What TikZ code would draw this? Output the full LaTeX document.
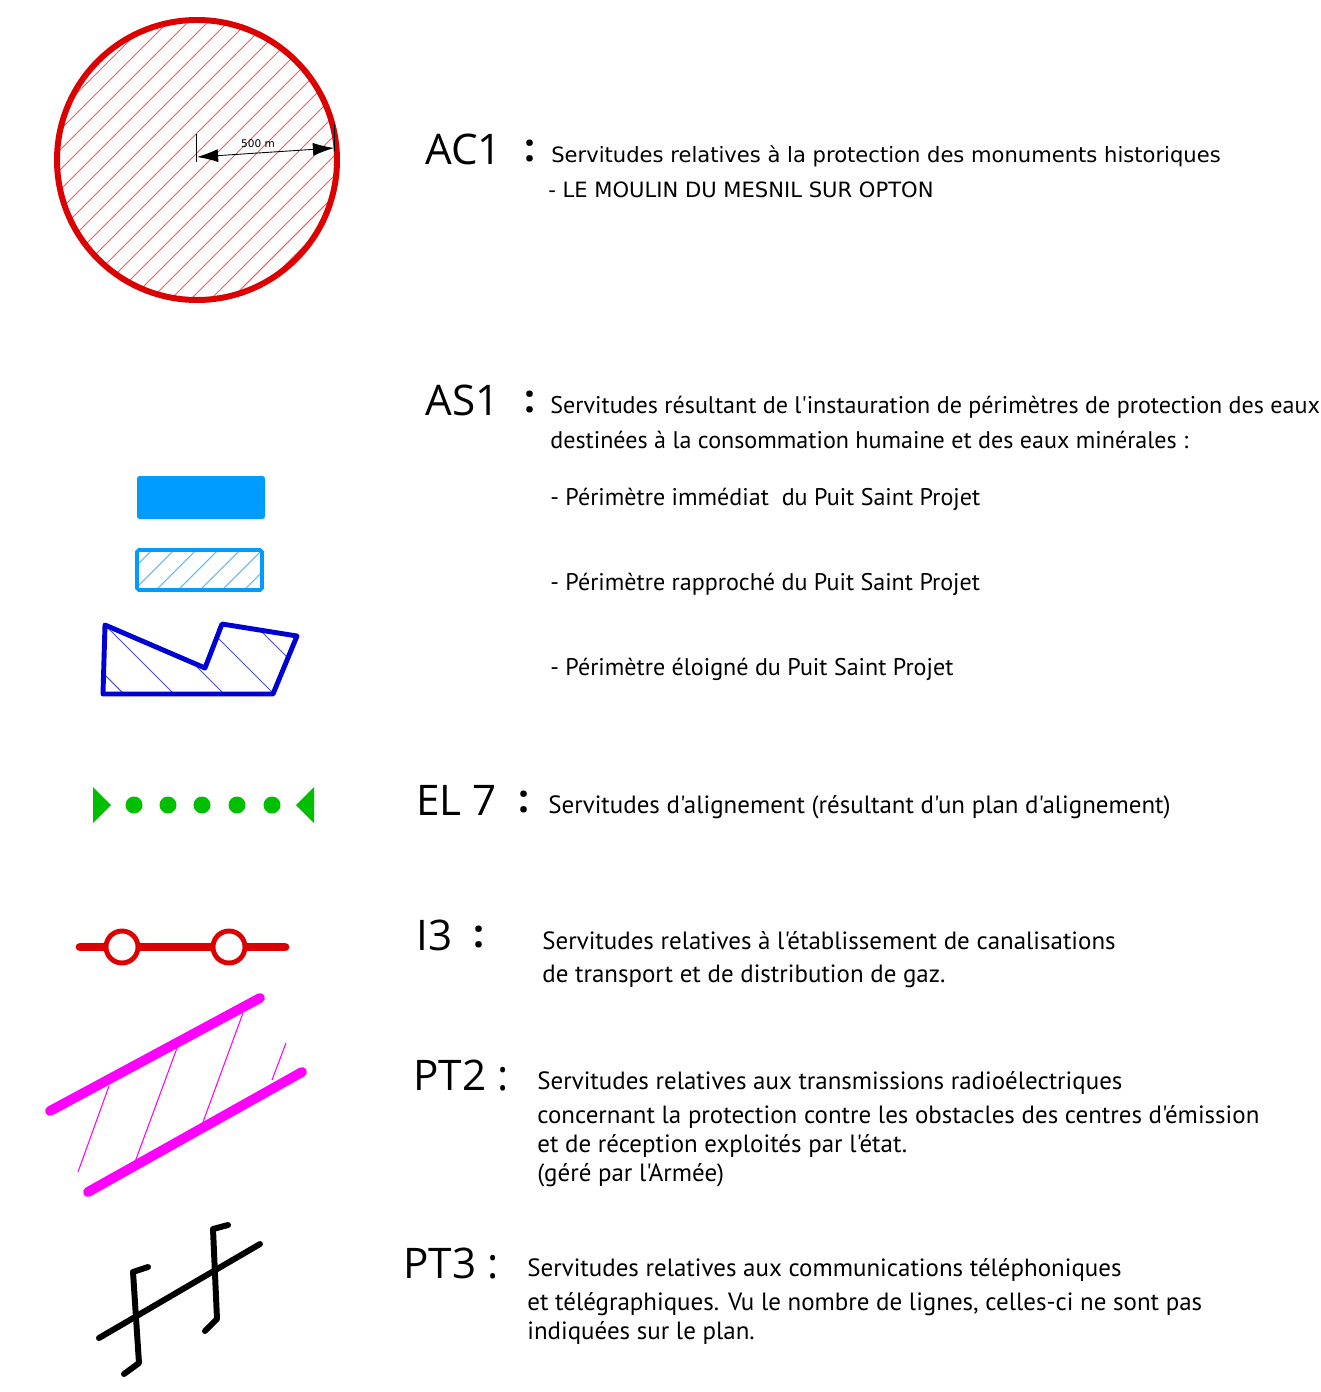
\documentclass[tikz,border=0pt]{standalone}
\usepackage{fontspec}
\setmainfont{PT Sans}[Ligatures=TeXOff]
\newfontfamily\codefont{Open Sans}
\newfontfamily\widefont{DejaVu Sans}[Ligatures=TeXOff]
\usetikzlibrary{arrows.meta}

\definecolor{acred}{RGB}{220,0,0}
\definecolor{hatchred}{RGB}{245,90,90}
\definecolor{asblue}{RGB}{0,155,255}
\definecolor{hatchblue}{RGB}{90,185,255}
\definecolor{farblue}{RGB}{0,0,210}
\definecolor{elgreen}{RGB}{0,190,0}
\definecolor{ptpink}{RGB}{255,0,255}

\tikzset{
  code/.style={anchor=base west, inner sep=0pt, font=\codefont\fontsize{24}{30}\selectfont},
  colon/.style={anchor=base west, inner sep=0pt, font=\codefont\bfseries\fontsize{22}{26}\selectfont},
  desc/.style={anchor=base west, inner sep=0pt, font=\fontsize{14.2}{17}\selectfont},
  sdesc/.style={desc, font=\fontsize{13.7}{17}\selectfont},
  wdesc/.style={anchor=base west, inner sep=0pt, font=\widefont\fontsize{12}{14}\selectfont}
}

\begin{document}
\begin{tikzpicture}[x=0.02cm, y=-0.02cm]
  \useasboundingbox (0,0) rectangle (1320,1392);

  % AC1 : circle of protection
  \begin{scope}
    \clip (197,160) circle[radius=139];
    \foreach \i in {-260,-240,...,380}
      \draw[hatchred, line width=0.6pt] (\i,310) -- ++(310,-310);
  \end{scope}
  \draw[acred, line width=3.4pt] (197,160) circle[radius=140];
  \draw[line width=0.5pt] (196,134) -- (196,162);
  \draw[line width=0.5pt] (334,124) -- (334,151);
  \draw[{Latex[length=12pt,width=7.5pt]}-{Latex[length=12pt,width=7.5pt]}, line width=0.5pt]
    (197,157) -- (334,148);
  \node[font=\widefont\fontsize{6}{7}\selectfont, inner sep=0pt] (radius) at (258,144) {500 m};

  \node[code] (ac1) at (425,165) {AC1};
  \node[colon] (ac1c) at (524,162) {:};
  \node[wdesc] (ac1a) at (551,163) {Servitudes relatives à la protection des monuments historiques};
  \node[wdesc] (ac1b) at (548,197) {- LE MOULIN DU MESNIL SUR OPTON};

  % AS1 : protection perimeters
  \node[code] (as1) at (425,415) {AS1};
  \node[colon] (as1c) at (524,412) {:};
  \node[sdesc] (as1a) at (550,413) {Servitudes résultant de l'instauration de périmètres de protection des eaux};
  \node[sdesc] (as1b) at (550,448) {destinées à la consommation humaine et des eaux minérales :};

  \fill[asblue, rounded corners=1.5pt] (137,476) rectangle (265,519);
  \begin{scope}
    \clip (137,550) rectangle (262,590);
    \foreach \i in {80,102,...,300}
      \draw[hatchblue, line width=0.6pt] (\i,600) -- ++(60,-60);
  \end{scope}
  \draw[asblue, line width=2pt, rounded corners=1pt] (137,550) rectangle (262,590);

  \begin{scope}
    \clip (105,625) -- (205,668) -- (222,624) -- (297,636) -- (273,694) -- (103,694) -- cycle;
    \foreach \i in {-20,30,...,330}
      \draw[farblue!70, line width=0.6pt] (\i,600) -- ++(110,110);
  \end{scope}
  \draw[farblue, line width=2.8pt, line join=round]
    (105,625) -- (205,668) -- (222,624) -- (297,636) -- (273,694) -- (103,694) -- cycle;

  \node[sdesc] (as1p1) at (550,505) {- Périmètre immédiat\ \ du Puit Saint Projet};
  \node[sdesc] (as1p2) at (550,590) {- Périmètre rapproché du Puit Saint Projet};
  \node[sdesc] (as1p3) at (550,675) {- Périmètre éloigné du Puit Saint Projet};

  % EL 7 : alignment
  \fill[elgreen] (93,787) -- (111,805) -- (93,823) -- cycle;
  \fill[elgreen] (314,787) -- (296,805) -- (314,823) -- cycle;
  \foreach \x in {134,168,202,237,272}
    \fill[elgreen] (\x,805) circle[radius=8.5];

  \node[code] (el7) at (416,815) {EL 7};
  \node[colon] (el7c) at (518,812) {:};
  \node[desc] (el7a) at (548,813) {Servitudes d'alignement (résultant d'un plan d'alignement)};

  % I3 : gas pipes
  \draw[acred, line width=5pt, line cap=round] (80,947) -- (285,947);
  \foreach \x in {122,229}
    \draw[acred, fill=white, line width=2.8pt] (\x,947) circle[radius=16];

  \node[code] (i3) at (416,950) {I3};
  \node[colon] (i3c) at (473,947) {:};
  \node[desc] (i3a) at (542,949) {Servitudes relatives à l'établissement de canalisations};
  \node[desc] (i3b) at (542,982) {de transport et de distribution de gaz.};

  % PT2 : radio transmissions
  \draw[ptpink, line width=0.6pt] (78,1172) -- (109,1086);
  \draw[ptpink, line width=0.6pt] (135,1162) -- (177,1048);
  \draw[ptpink, line width=0.6pt] (203,1122) -- (243,1013);
  \draw[ptpink, line width=0.6pt] (272,1080) -- (286,1043);
  \draw[ptpink, line width=5.6pt, line cap=round] (50,1111) -- (260,998);
  \draw[ptpink, line width=5.6pt, line cap=round] (88,1192) -- (302,1072);

  \node[code] (pt2) at (413,1090) {PT2 :};
  \node[desc] (pt2a) at (537,1089) {Servitudes relatives aux transmissions radioélectriques};
  \node[desc] (pt2b) at (537,1123) {concernant la protection contre les obstacles des centres d'émission};
  \node[desc] (pt2c) at (537,1152) {et de réception exploités par l'état.};
  \node[desc] (pt2d) at (537,1181) {(géré par l'Armée)};

  % PT3 : telephone lines
  \draw[line width=3.4pt, line cap=round] (99,1338) -- (260,1244);
  \draw[line width=3.4pt, line cap=round, line join=round]
    (124,1374) -- (139,1363) -- (133,1272) -- (148,1267);
  \draw[line width=3.4pt, line cap=round, line join=round]
    (205,1331) -- (217,1319) -- (213,1229) -- (228,1225);

  \node[code] (pt3) at (403,1278) {PT3 :};
  \node[desc] (pt3a) at (527,1276) {Servitudes relatives aux communications téléphoniques};
  \node[desc] (pt3b) at (527,1310) {et télégraphiques. Vu le nombre de lignes, celles-ci ne sont pas};
  \node[desc] (pt3c) at (527,1339) {indiquées sur le plan.};
\end{tikzpicture}
\end{document}
